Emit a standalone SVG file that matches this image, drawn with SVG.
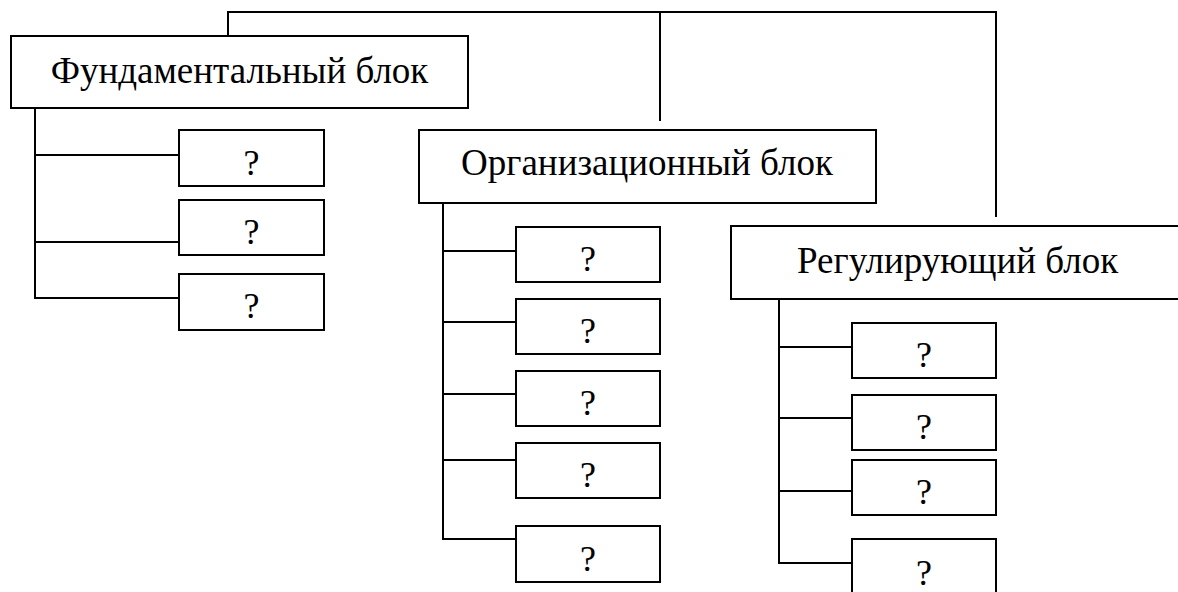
<svg xmlns="http://www.w3.org/2000/svg" width="1178" height="592" viewBox="0 0 1178 592">
<style>
.box{fill:#fff;stroke:#000;stroke-width:2}
.ln{fill:none;stroke:#000;stroke-width:2}
text{font-family:'Liberation Serif','Times New Roman',serif;fill:#000}
.lbl{font-size:37px}
.q{font-size:36px;text-anchor:middle}
</style>
<rect width="1178" height="592" fill="#fff"/>
<g id="connectors">
<polyline class="ln" points="228,36 228,12 996,12 996,217"/>
<line class="ln" x1="660" y1="12" x2="660" y2="121"/>
<polyline class="ln" points="35,108 35,298 179,298"/>
<line class="ln" x1="35" y1="155" x2="179" y2="155"/>
<line class="ln" x1="35" y1="242" x2="179" y2="242"/>
<polyline class="ln" points="443,203 443,539 516,539"/>
<line class="ln" x1="443" y1="251" x2="516" y2="251"/>
<line class="ln" x1="443" y1="322" x2="516" y2="322"/>
<line class="ln" x1="443" y1="394" x2="516" y2="394"/>
<line class="ln" x1="443" y1="460" x2="516" y2="460"/>
<polyline class="ln" points="779,299 779,563 852,563"/>
<line class="ln" x1="779" y1="347" x2="852" y2="347"/>
<line class="ln" x1="779" y1="418" x2="852" y2="418"/>
<line class="ln" x1="779" y1="491" x2="852" y2="491"/>
</g>
<g id="fund">
<rect class="box" x="11" y="36" width="457" height="72"/>
<text class="lbl" x="239.5" y="83" text-anchor="middle">Фундаментальный блок</text>
</g>
<g id="f1"><rect class="box" x="179" y="130" width="145" height="56"/><text class="q" x="251.5" y="175">?</text></g>
<g id="f2"><rect class="box" x="179" y="200" width="145" height="55"/><text class="q" x="251.5" y="244">?</text></g>
<g id="f3"><rect class="box" x="179" y="274" width="145" height="56"/><text class="q" x="251.5" y="318">?</text></g>
<g id="org">
<rect class="box" x="419" y="130" width="457" height="73"/>
<text class="lbl" x="647" y="175" text-anchor="middle">Организационный блок</text>
</g>
<g id="o1"><rect class="box" x="516" y="227" width="144" height="55"/><text class="q" x="588" y="271">?</text></g>
<g id="o2"><rect class="box" x="516" y="299" width="144" height="55"/><text class="q" x="588" y="343">?</text></g>
<g id="o3"><rect class="box" x="516" y="371" width="144" height="55"/><text class="q" x="588" y="415">?</text></g>
<g id="o4"><rect class="box" x="516" y="443" width="144" height="55"/><text class="q" x="588" y="487">?</text></g>
<g id="o5"><rect class="box" x="516" y="526" width="144" height="56"/><text class="q" x="588" y="571">?</text></g>
<g id="reg">
<rect class="box" x="731" y="226" width="460" height="73"/>
<text class="lbl" x="797" y="273">Регулирующий блок</text>
</g>
<g id="r1"><rect class="box" x="852" y="323" width="144" height="55"/><text class="q" x="924" y="367">?</text></g>
<g id="r2"><rect class="box" x="852" y="395" width="144" height="55"/><text class="q" x="924" y="439">?</text></g>
<g id="r3"><rect class="box" x="852" y="460" width="144" height="55"/><text class="q" x="924" y="504">?</text></g>
<g id="r4"><rect class="box" x="852" y="539" width="144" height="70"/><text class="q" x="924" y="585">?</text></g>
</svg>
